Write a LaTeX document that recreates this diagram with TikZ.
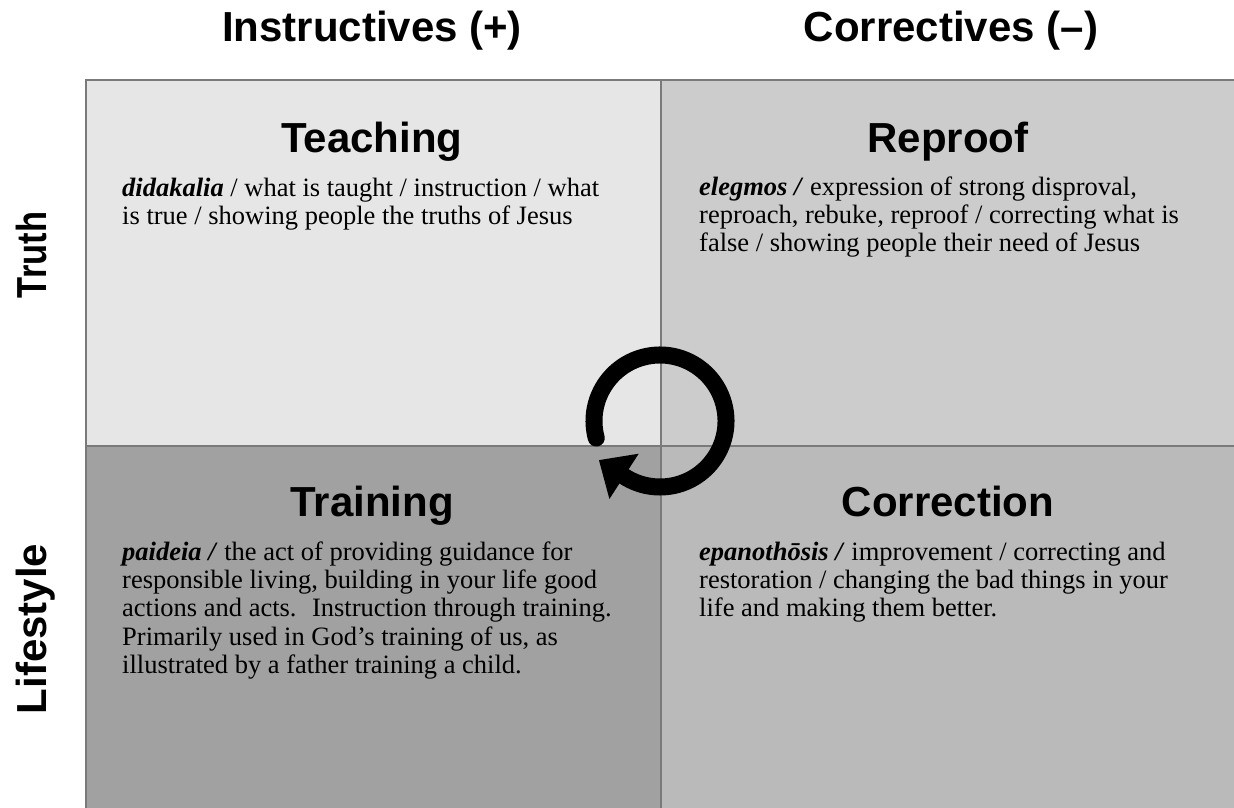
\documentclass[tikz,border=0pt]{standalone}
\usepackage{fontspec}
\setmainfont{Liberation Serif}
\newfontfamily\headfont{Liberation Sans}
\usetikzlibrary{arrows.meta}
\definecolor{qA}{HTML}{E6E6E6}
\definecolor{qB}{HTML}{CCCCCC}
\definecolor{qC}{HTML}{A1A1A1}
\definecolor{qD}{HTML}{BABABA}
\definecolor{edge}{HTML}{7A7A7A}
\begin{document}
\begin{tikzpicture}[x=1pt,y=-1pt,
  quad/.style={draw=edge, line width=2pt, anchor=north west, inner sep=0pt, minimum width=#1},
  head/.style={font={\headfont\bfseries\fontsize{42}{50}\selectfont}, inner sep=0pt, anchor=base},
  body/.style={font={\fontsize{26.5}{28.3}\selectfont}, align=left, inner sep=0pt, anchor=north west},
  cyc/.style={line width=17pt, line cap=round, -{Triangle[length=30pt,width=52pt]}}]
\useasboundingbox (0,0) rectangle (1234,808);
% quadrants
\node[quad=575pt, minimum height=366pt, fill=qA] (teach) at (85,79) {};
\node[quad=580pt, minimum height=366pt, fill=qB] (reproof) at (660,79) {};
\node[quad=575pt, minimum height=372pt, fill=qC] (train) at (85,445) {};
\node[quad=580pt, minimum height=372pt, fill=qD] (correct) at (660,445) {};
% column / row headings
\node[head] (instr) at (372,42) {Instructives (+)};
\node[head] (corr) at (951,42) {Correctives (–)};
\node[head, rotate=90, xscale=0.82] (truth) at (46,255) {Truth};
\node[head, rotate=90] (life) at (46,629) {Lifestyle};
% quadrant titles
\node[head] (tTeach) at (372,152) {Teaching};
\node[head] (tReproof) at (948,152) {Reproof};
\node[head] (tTrain) at (372,516) {Training};
\node[head] (tCorrect) at (948,516) {Correction};
% texts (first baseline = y + 22)
\node[body] (xTeach) at (122,174) {\rule{0pt}{22pt}\textbf{\textit{didakalia}} / what is taught / instruction / what\\is true / showing people the truths of Jesus};
\node[body] (xReproof) at (699,173) {\rule{0pt}{22pt}\textbf{\textit{elegmos /}} expression of strong disproval,\\reproach, rebuke, reproof / correcting what is\\false / showing people their need of Jesus};
\node[body] (xTrain) at (122,538) {\rule{0pt}{22pt}\textbf{\textit{paideia /}} the act of providing guidance for\\responsible living, building in your life good\\actions and acts.~ Instruction through training.\\Primarily used in God’s training of us, as\\illustrated by a father training a child.};
\node[body] (xCorrect) at (699,538) {\rule{0pt}{22pt}\textbf{\textit{epanothōsis /}} improvement / correcting and\\restoration / changing the bad things in your\\life and making them better.};
% cycle arrow
\coordinate (cyc0) at (660,421);
\begin{scope}[shift={(cyc0)}, x=1pt, y=1pt]
\draw[cyc] (195:66) arc[start angle=195, end angle=-123, radius=66] -- ++(-25.2,16.3);
\end{scope}
\end{tikzpicture}
\end{document}
